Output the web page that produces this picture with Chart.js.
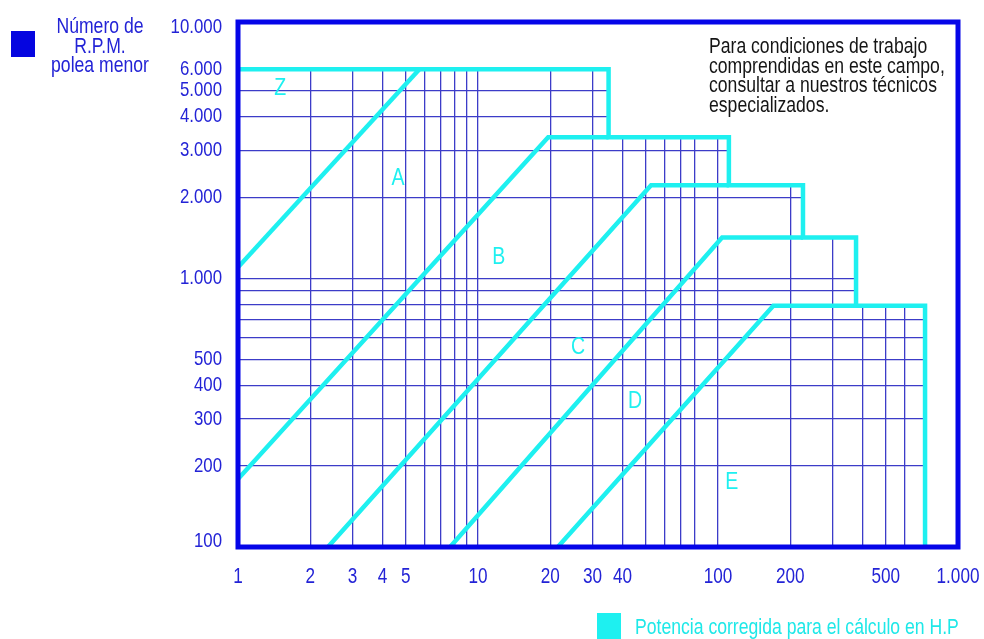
<!DOCTYPE html>
<html>
<head>
<meta charset="utf-8">
<script src="https://cdn.jsdelivr.net/npm/chart.js@4.4.1/dist/chart.umd.min.js"></script>
<style>
  body { margin: 0; background: #fff; }
  #wrap { position: relative; width: 984px; height: 639px; font-family: "Liberation Sans", Arial, sans-serif; }
  #wrap canvas { position: absolute; left: 0; top: 0; }
  .box { position: absolute; }
  .narrow { transform: scaleX(0.8); white-space: nowrap; }
  #rpmKey { left: 11px; top: 31px; width: 24px; height: 26px; background: #0505e0; }
  #rpmTitle { left: 20px; top: 16px; width: 160px; text-align: center; color: #2323d6; font-size: 22px; line-height: 19.5px; transform-origin: 50% 0; }
  #note { left: 709px; top: 36px; color: #151515; font-size: 22px; line-height: 19.5px; transform-origin: 0 0; }
  #hpKey { left: 597px; top: 613px; width: 24px; height: 26px; background: #1ef0f0; }
  #hpTitle { left: 635px; top: 616px; color: #1ee8e8; font-size: 22px; line-height: 22px; transform-origin: 0 0; }
</style>
</head>
<body>
<div id="wrap">
  <canvas id="beltChart" width="984" height="639"></canvas>
  <div class="box" id="rpmKey"></div>
  <div class="box narrow" id="rpmTitle">Número de<br>R.P.M.<br>polea menor</div>
  <div class="box narrow" id="note">Para condiciones de trabajo<br>comprendidas en este campo,<br>consultar a nuestros técnicos<br>especializados.</div>
  <div class="box" id="hpKey"></div>
  <div class="box narrow" id="hpTitle">Potencia corregida para el cálculo en H.P</div>
</div>
<script>
// x: potencia (H.P), y: r.p.m. polea menor -- both log
const xGrid = [1, 2, 3, 4, 5, 6, 7, 8, 9, 10, 20, 30, 40, 50, 60, 70, 80, 100, 200, 300, 400, 500, 600, 1000];
const xLabelValues = [1, 2, 3, 4, 5, 10, 20, 30, 40, 100, 200, 500, 1000];
const xLabelText = ['1', '2', '3', '4', '5', '10', '20', '30', '40', '100', '200', '500', '1.000'];

const yTop = 9000; // top edge of the printed scale, labelled 10.000
const yGrid = [100, 200, 300, 400, 500, 600, 700, 800, 900, 1000, 2000, 3000, 4000, 5000, 6000, yTop];
const yLabelValues = [100, 200, 300, 400, 500, 1000, 2000, 3000, 4000, 5000, 6000, yTop];
const yLabelText = ['100', '200', '300', '400', '500', '1.000', '2.000', '3.000', '4.000', '5.000', '6.000', '10.000'];

// stepped outer limit of the sections
const envelope = [[1, 6000], [35, 6000], [35, 3350], [111, 3350], [111, 2220], [226, 2220], [226, 1420], [376, 1420], [376, 790], [729, 790], [729, 100]];

// section limits: diagonal, then the flat top running into the next step
const lineZA = [[1, 1100], [5.7, 6000]];
const lineAB = [[1, 179], [19.6, 3350], [35, 3350]];
const lineBC = [[2.37, 100], [52.6, 2220], [111, 2220]];
const lineCD = [[7.65, 100], [104, 1420], [226, 1420]];
const lineDE = [[21.5, 100], [170, 790], [376, 790]];

const zoneNames = ['Z', 'A', 'B', 'C', 'D', 'E'];
const zoneX = [1.5, 4.64, 12.2, 26.1, 45.1, 114];
const zoneY = [5070, 2344, 1190, 550, 347, 173];

const CYAN = '#1ef0f0';
const BLUE = '#2323d6';
const FONT = '"Liberation Sans", Arial, sans-serif';

const pts = arr => arr.map(p => ({ x: p[0], y: p[1] }));

function cyanLine(arr) {
    return {
        data: pts(arr),
        borderColor: CYAN,
        borderWidth: 4.5,
        pointRadius: 0,
        fill: false,
        tension: 0,
        order: 1
    };
}

// condensed text: squeeze horizontally like the printed chart
function narrowText(ctx, text, x, y, sx) {
    ctx.save();
    ctx.translate(x, y);
    ctx.scale(sx, 1);
    ctx.fillText(text, 0, 0);
    ctx.restore();
}

// frame, tick labels and zone letters on top of everything
const framePlugin = {
    id: 'frame',
    afterDatasetsDraw(chart) {
        const { ctx, chartArea: a } = chart;
        const xs = chart.scales.x, ys = chart.scales.y;
        ctx.save();

        ctx.fillStyle = CYAN;
        ctx.font = '23px ' + FONT;
        ctx.textAlign = 'center';
        ctx.textBaseline = 'middle';
        zoneNames.forEach((n, i) => {
            narrowText(ctx, n, xs.getPixelForValue(zoneX[i]), ys.getPixelForValue(zoneY[i]), 0.85);
        });

        ctx.strokeStyle = '#0505e8';
        ctx.lineWidth = 5;
        ctx.strokeRect(a.left, a.top, a.right - a.left, a.bottom - a.top);

        ctx.fillStyle = BLUE;
        ctx.font = '21px ' + FONT;
        ctx.textAlign = 'right';
        ctx.textBaseline = 'middle';
        yLabelValues.forEach((v, i) => {
            let py = ys.getPixelForValue(v);
            py = Math.min(Math.max(py, a.top + 5), a.bottom - 6);
            narrowText(ctx, yLabelText[i], a.left - 16, py, 0.8);
        });

        ctx.font = '22px ' + FONT;
        ctx.textAlign = 'center';
        ctx.textBaseline = 'alphabetic';
        xLabelValues.forEach((v, i) => {
            narrowText(ctx, xLabelText[i], xs.getPixelForValue(v), a.bottom + 36, 0.78);
        });
        ctx.restore();
    }
};

const ctx = document.getElementById('beltChart').getContext('2d');

new Chart(ctx, {
    type: 'line',
    data: {
        datasets: [
            cyanLine(envelope),
            cyanLine(lineZA),
            cyanLine(lineAB),
            cyanLine(lineBC),
            cyanLine(lineCD),
            cyanLine(lineDE),
            {
                // white cover above the envelope so the grid stops there
                data: pts(envelope.concat([[1000, 100]])),
                borderWidth: 0,
                borderColor: 'rgba(0,0,0,0)',
                backgroundColor: '#ffffff',
                pointRadius: 0,
                fill: 'end',
                order: 10
            }
        ]
    },
    options: {
        responsive: false,
        animation: false,
        layout: { padding: { left: 0, top: 22, right: 26, bottom: 0 } },
        plugins: {
            legend: { display: false },
            tooltip: { enabled: false }
        },
        scales: {
            x: {
                type: 'logarithmic',
                min: 1,
                max: 1000,
                afterBuildTicks: s => { s.ticks = xGrid.map(v => ({ value: v })); },
                afterFit: s => { s.height = 92; },
                grid: { color: '#3c3cc8', lineWidth: 1.3, drawTicks: false },
                border: { display: false },
                ticks: { display: false }
            },
            y: {
                type: 'logarithmic',
                min: 100,
                max: yTop,
                afterBuildTicks: s => { s.ticks = yGrid.map(v => ({ value: v })); },
                afterFit: s => { s.width = 238; },
                grid: { color: '#3c3cc8', lineWidth: 1.3, drawTicks: false },
                border: { display: false },
                ticks: { display: false }
            }
        }
    },
    plugins: [framePlugin]
});
</script>
</body>
</html>
